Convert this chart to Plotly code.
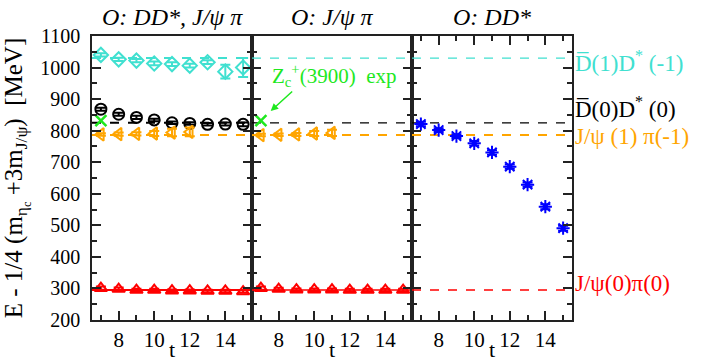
import plotly.graph_objects as go
from plotly.subplots import make_subplots

# time slices
t = [7, 8, 9, 10, 11, 12, 13, 14, 15]

# panel 1: O = DD*, J/psi pi
cyan_p1 = [1040, 1026, 1022, 1013, 1011, 1006, 1017, 987, 1000]
cyan_p1_err = [5, 5, 5, 6, 6, 6, 6, 22, 30]
black_p1 = [868, 852, 842, 834, 825, 823, 820, 821, 820]
black_p1_err = [5, 5, 5, 4, 4, 4, 4, 5, 6]
t_orange_p1 = [7, 8, 9, 10, 11, 12]
orange_p1 = [788, 789, 790, 791, 794, 796]
orange_p1_err = [4, 5, 5, 8, 12, 14]
red_p1 = [301, 298, 295, 295, 293, 293, 292, 292, 290]
red_p1_err = [5, 5, 4, 4, 4, 4, 4, 4, 4]

# panel 2: O = J/psi pi
t_orange_p2 = [7, 8, 9, 10, 11]
orange_p2 = [786, 787, 788, 791, 793]
orange_p2_err = [4, 4, 5, 8, 10]
red_p2 = [301, 298, 296, 296, 296, 295, 295, 295, 295]
red_p2_err = [5, 4, 4, 4, 4, 4, 4, 4, 4]

# panel 3: O = DD*
blue_p3 = [821, 802, 783, 760, 731, 686, 629, 559, 491]
blue_p3_err = [7, 6, 6, 7, 7, 7, 7, 8, 8]

# experimental Zc(3900)
t_zc = [7]
zc_exp = [832]

# non-interacting levels
levels = [1030, 825, 786, 295]
level_colors = ["#40E0D0", "black", "#FFA500", "red"]
level_labels = ["D\u0305(1)D<sup>*</sup> (-1)", "D\u0305(0)D<sup>*</sup> (0)",
                "J/\u03c8 (1) \u03c0(-1)", "J/\u03c8(0)\u03c0(0)"]
label_pos = [1019, 873, 782, 317]

panel_titles = ["<i>O: DD*, J/\u03c8 \u03c0</i>", "<i>O: J/\u03c8 \u03c0</i>", "<i>O: DD*</i>"]

FONT = "Liberation Serif, Times New Roman, DejaVu Serif, serif"
GREEN = "#1EE81E"

fig = make_subplots(rows=1, cols=3, shared_yaxes=True, horizontal_spacing=0)


def pts(x, y, err, color, symbol, col, size=11):
    fig.add_trace(go.Scatter(
        x=x, y=y, mode="markers",
        marker=dict(symbol=symbol, size=size, color=color, line=dict(width=2, color=color)),
        error_y=dict(type="data", array=err, color=color, thickness=2, width=5),
        showlegend=False,
    ), row=1, col=col)


# reference lines (drawn first so markers sit on top)
dash_styles = [
    ["dash", "dash", "dash", "solid"],
    ["dash", "dash", "dash", "solid"],
    ["dash", "dash", "dash", "dash"],
]
widths = [[2, 2, 2, 2], [1.3, 1.3, 2, 1.5], [1.3, 1.3, 2, 1.3]]
for c in range(3):
    for i, lv in enumerate(levels):
        fig.add_trace(go.Scatter(
            x=[6.5, 15.5], y=[lv, lv], mode="lines",
            line=dict(color=level_colors[i], dash=dash_styles[c][i], width=widths[c][i]),
            showlegend=False, hoverinfo="skip",
        ), row=1, col=c + 1)

pts(t, cyan_p1, cyan_p1_err, "#40E0D0", "diamond-open", 1)
pts(t, black_p1, black_p1_err, "black", "circle-open", 1)
pts(t_orange_p1, orange_p1, orange_p1_err, "#FFA500", "triangle-left-open", 1)
pts(t, red_p1, red_p1_err, "red", "triangle-up-open", 1)
pts(t_orange_p2, orange_p2, orange_p2_err, "#FFA500", "triangle-left-open", 2)
pts(t, red_p2, red_p2_err, "red", "triangle-up-open", 2)
pts(t, blue_p3, blue_p3_err, "blue", "asterisk-open", 3)

for c in (1, 2):
    fig.add_trace(go.Scatter(
        x=t_zc, y=zc_exp, mode="markers",
        marker=dict(symbol="x-thin-open", size=11, color=GREEN, line=dict(width=2.5, color=GREEN)),
        showlegend=False,
    ), row=1, col=c)

for c in range(1, 4):
    fig.update_xaxes(
        range=[6.5, 15.5], tickvals=[8, 10, 12, 14], ticks="inside", ticklen=9,
        tickwidth=1.5, tickcolor="#222", showline=True, linecolor="#222", linewidth=1.5,
        mirror="ticks" if c == 3 else True, showgrid=False, zeroline=False, automargin=False,
        minor=dict(tickvals=[7, 9, 11, 13, 15], ticks="inside", ticklen=5, tickcolor="#222", tickwidth=1.5),
        title=dict(text="t", font=dict(size=22, family=FONT), standoff=24),
        ticklabelstandoff=0, tickfont=dict(size=21, family=FONT), row=1, col=c)
    fig.update_yaxes(
        range=[200, 1100], dtick=100, ticks="inside", ticklen=9, tickwidth=1.5, tickcolor="#222",
        showline=True, linecolor="#222", linewidth=1.5, mirror="ticks", showgrid=False,
        zeroline=False, automargin=False,
        minor=dict(dtick=50, ticks="inside", ticklen=5, tickcolor="#222", tickwidth=1.5),
        ticklabelstandoff=6, tickfont=dict(size=20, family=FONT), row=1, col=c)

fig.update_yaxes(
    title=dict(text="E - 1/4 (m<sub>\u03b7<sub>c</sub></sub> +3m<sub>J/\u03c8</sub>)  [MeV]",
               font=dict(size=25, family=FONT), standoff=24),
    row=1, col=1)

# panel titles
for c, txt in enumerate(panel_titles):
    fig.add_annotation(text=txt, xref="paper", yref="paper", x=(c + 0.5) / 3, y=1,
                       xanchor="center", yanchor="bottom", yshift=5, showarrow=False,
                       borderpad=0, font=dict(size=24, family=FONT))

# Zc annotation
fig.add_annotation(text="Z<sub>c</sub><sup>+</sup>(3900)  exp", xref="x2", yref="y",
                   x=7.5, y=975, xanchor="left", showarrow=False,
                   font=dict(size=21, color=GREEN, family=FONT))
fig.add_annotation(text="", xref="x2", yref="y", x=7.55, y=862, ax=23, ay=-21,
                   showarrow=True, arrowhead=2, arrowsize=1, arrowwidth=1.5, arrowcolor=GREEN)

# level labels on the right
for i, txt in enumerate(level_labels):
    fig.add_annotation(text=txt, xref="paper", yref="y", x=1, xshift=1, y=label_pos[i],
                       xanchor="left", showarrow=False,
                       font=dict(size=23, color=level_colors[i], family=FONT))

fig.update_layout(
    width=706, height=362,
    margin=dict(l=92, r=134, t=36, b=42),
    plot_bgcolor="white", paper_bgcolor="white",
    font=dict(family=FONT, color="black"),
)

# drop the default body margin so the figure sits at the window's corner
fig.write_html("out.html", config={"displayModeBar": False},
               post_script="document.body.style.margin = '0px';")
